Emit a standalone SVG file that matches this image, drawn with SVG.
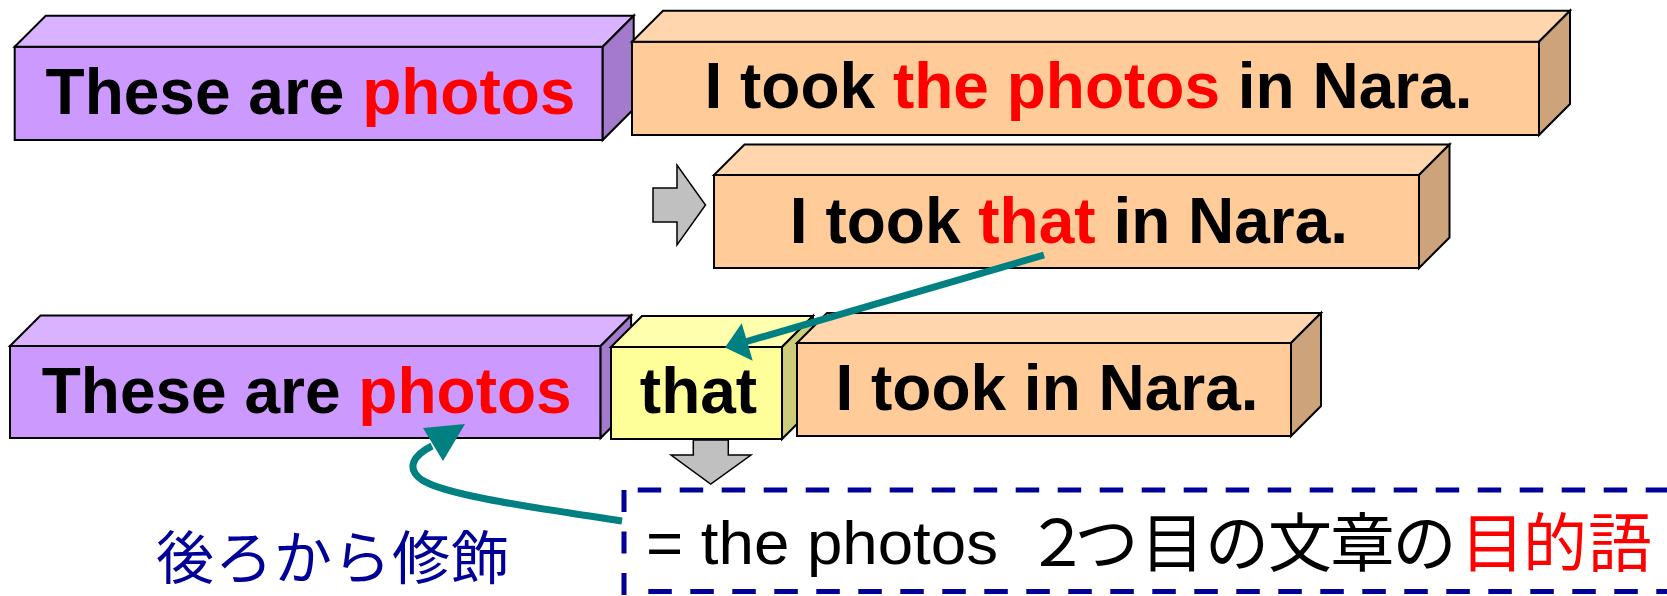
<svg xmlns="http://www.w3.org/2000/svg" width="1667" height="596" viewBox="0 0 1667 596">
<style>
.edge{stroke:#000;stroke-width:2;stroke-linejoin:miter}
.pf{fill:#CC99FF}.pt{fill:#D9B3FF}.ps{fill:#A37ACC}
.of{fill:#FFCC99}.ot{fill:#FFD6AD}.os{fill:#CCA37A}
.yf{fill:#FFFF99}.yt{fill:#FFFFAD}.ys{fill:#CCCC7A}
.bold{font-family:"Liberation Sans",Arial,sans-serif;font-weight:bold;font-size:64px;fill:#000;text-anchor:middle}
.red{fill:#FF0000}
.reg{font-family:"Liberation Sans",Arial,sans-serif;font-size:61px;fill:#000}
.cjk{font-family:"Noto Sans CJK JP",sans-serif;font-size:64px;fill:#000}
.grey{fill:#C0C0C0;stroke:#000;stroke-width:1.5}
.teal{fill:none;stroke:#008080;stroke-width:7}
.tealhead{fill:#008080}
.dash{fill:none;stroke:#000099;stroke-width:5}
</style>
<rect width="1667" height="596" fill="#FFFFFF"/>

<g id="box-these-1">
<rect class="pf edge" x="14.7" y="46.7" width="588" height="93.3"/>
<polygon class="pt edge" points="14.7,46.7 45.7,15.7 633.7,15.7 602.7,46.7"/>
<polygon class="ps edge" points="602.7,46.7 633.7,15.7 633.7,109 602.7,140"/>
<text class="bold" x="310.5" y="114">These are <tspan class="red">photos</tspan></text>
</g>

<g id="box-took-1">
<rect class="of edge" x="632" y="41.7" width="907" height="93.3"/>
<polygon class="ot edge" points="632,41.7 663,10.7 1570,10.7 1539,41.7"/>
<polygon class="os edge" points="1539,41.7 1570,10.7 1570,104 1539,135"/>
<text class="bold" x="1088.5" y="108">I took <tspan class="red">the photos</tspan> in Nara.</text>
</g>

<g id="arrow-right">
<polygon class="grey" points="653,188 677,188 677,165 705.5,205 677,245 677,222 653,222"/>
</g>

<g id="box-took-2">
<rect class="of edge" x="714" y="175" width="705" height="93"/>
<polygon class="ot edge" points="714,175 744.5,144.5 1449.5,144.5 1419,175"/>
<polygon class="os edge" points="1419,175 1449.5,144.5 1449.5,237.5 1419,268"/>
<text class="bold" x="1069" y="243">I took <tspan class="red">that</tspan> in Nara.</text>
</g>

<g id="box-these-2">
<rect class="pf edge" x="10" y="346" width="590.6" height="92"/>
<polygon class="pt edge" points="10,346 40.5,315.5 631.1,315.5 600.6,346"/>
<polygon class="ps edge" points="600.6,346 631.1,315.5 631.1,407.5 600.6,438"/>
<text class="bold" x="306.7" y="412.7">These are <tspan class="red">photos</tspan></text>
</g>

<g id="box-that">
<rect class="yf edge" x="611" y="347" width="171" height="92"/>
<polygon class="yt edge" points="611,347 642,316 813,316 782,347"/>
<polygon class="ys edge" points="782,347 813,316 813,408 782,439"/>
<text class="bold" x="698.5" y="412.7">that</text>
</g>

<g id="box-took-3">
<rect class="of edge" x="797" y="343" width="494" height="93"/>
<polygon class="ot edge" points="797,343 827,313 1321,313 1291,343"/>
<polygon class="os edge" points="1291,343 1321,313 1321,406 1291,436"/>
<text class="bold" x="1047" y="410">I took in Nara.</text>
</g>

<g id="arrow-down">
<polygon class="grey" points="693.3,440 728.3,440 728.3,455 751,455 710.7,484 671,455 693.3,455"/>
</g>

<g id="note-box">
<path class="dash" d="M637.7,490 H1700" stroke-dasharray="23.5 18.5"/>
<path class="dash" d="M648.3,591.5 H1700" stroke-dasharray="23.5 18.5"/>
<path class="dash" d="M624,490 V596" stroke-dasharray="22 19.5"/>
<text class="reg" x="646" y="564" textLength="352" lengthAdjust="spacingAndGlyphs">= the photos</text>
<text class="cjk" y="566"><tspan x="1025.5 1074.5 1140.5 1205 1268 1330.5 1392.5">２つ目の文章の</tspan><tspan class="red" x="1460.5 1523 1588">目的語</tspan></text>
</g>

<g id="label-modify">
<text x="156" y="579" font-family="Noto Sans CJK JP, sans-serif" font-size="58" letter-spacing="1" fill="#000099">後ろから修飾</text>
</g>

<g id="connectors">
<path class="teal" d="M1044,255 L745,342"/>
<polygon class="tealhead" points="725,347.5 741.7,323.3 752.7,360.7"/>
<path class="teal" d="M622,521 C530,507 445,495 422,480 C405,468 414,455 432,446"/>
<polygon class="tealhead" points="465,424 423,428 443,461"/>
</g>
</svg>
